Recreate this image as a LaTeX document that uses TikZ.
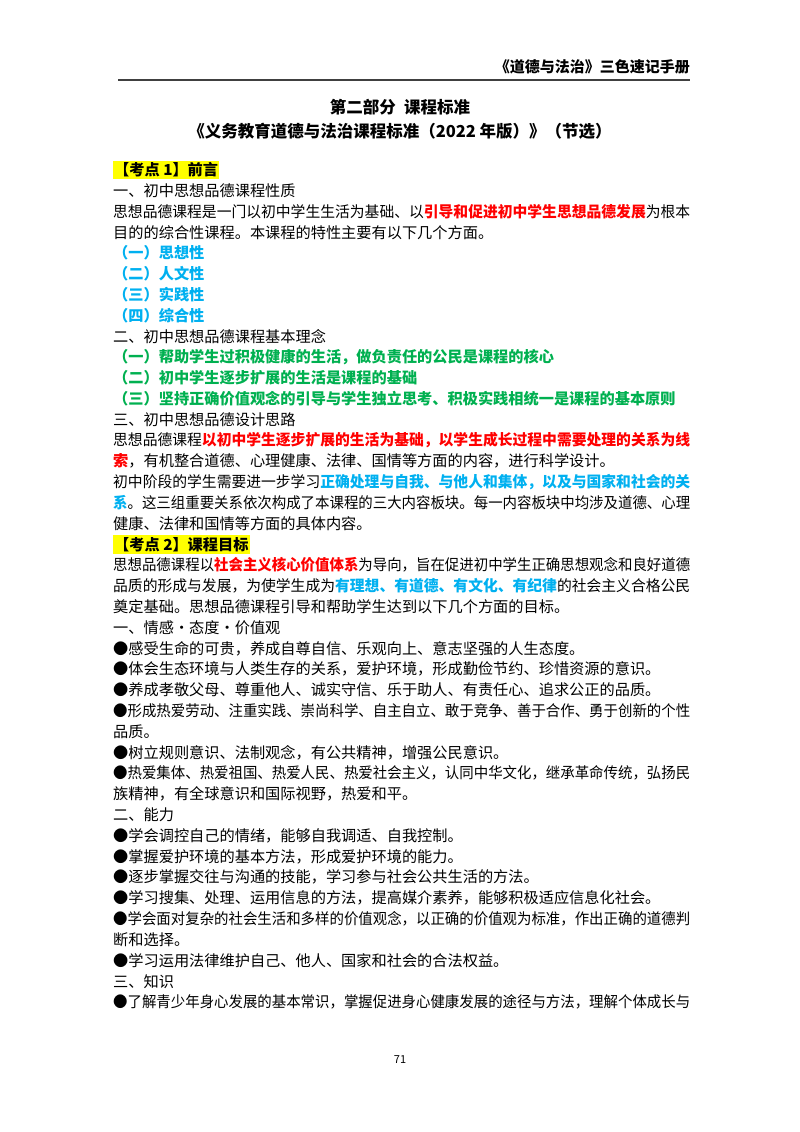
\documentclass[tikz,border=0pt]{standalone}
\usepackage{fontspec}
\usepackage{graphicx}
\setmainfont{Noto Sans CJK SC}
\definecolor{kred}{RGB}{255,0,0}
\definecolor{kblue}{RGB}{0,176,240}
\definecolor{kgreen}{RGB}{0,176,80}
\definecolor{khl}{RGB}{255,255,0}
\newcommand{\Rd}[1]{{\bfseries\color{kred}#1}}
\newcommand{\Bl}[1]{{\bfseries\color{kblue}#1}}
\newcommand{\Gr}[1]{{\bfseries\color{kgreen}#1}}
\newsavebox{\flbox}
\newcommand{\fl}[1]{\sbox{\flbox}{#1}\pgfmathsetmacro{\flr}{577pt/\wd\flbox}\scalebox{\flr}[1]{\usebox{\flbox}}}
\begin{document}
\begin{tikzpicture}[x=1pt,y=-1pt,
  ln/.style={anchor=west,inner sep=0pt,font=\fontsize{15.2}{16}\selectfont},
  hl/.style={ln,fill=khl,inner ysep=2pt,inner xsep=1pt,font=\fontsize{15.2}{16}\selectfont\bfseries}]
\useasboundingbox (0,0) rectangle (800,1132);
\node[anchor=east,inner sep=0pt,font=\fontsize{15}{16}\selectfont\bfseries] (hd) at (690,67) {《道德与法治》三色速记手册};
\draw[line width=1.5pt,black!75] (118,80) -- (690,80);
\node[inner sep=0pt,font=\fontsize{16.5}{18}\selectfont\bfseries] (t1) at (400,107) {第二部分\hspace{0.5em}课程标准};
\node[inner sep=0pt,font=\fontsize{16.5}{18}\selectfont\bfseries] (t2) at (400,131) {《义务教育道德与法治课程标准（2022 年版）》（节选）};
\foreach \i/\t in {
2/{一、初中思想品德课程性质},
3/{\fl{思想品德课程是一门以初中学生生活为基础、以\Rd{引导和促进初中学生思想品德发展}为根本}},
4/{目的的综合性课程。本课程的特性主要有以下几个方面。},
5/{\Bl{（一）思想性}},
6/{\Bl{（二）人文性}},
7/{\Bl{（三）实践性}},
8/{\Bl{（四）综合性}},
9/{二、初中思想品德课程基本理念},
10/{\Gr{（一）帮助学生过积极健康的生活，做负责任的公民是课程的核心}},
11/{\Gr{（二）初中学生逐步扩展的生活是课程的基础}},
12/{\Gr{（三）坚持正确价值观念的引导与学生独立思考、积极实践相统一是课程的基本原则}},
13/{三、初中思想品德设计思路},
14/{\fl{思想品德课程\Rd{以初中学生逐步扩展的生活为基础，以学生成长过程中需要处理的关系为线}}},
15/{\Rd{索}，有机整合道德、心理健康、法律、国情等方面的内容，进行科学设计。},
16/{\fl{初中阶段的学生需要进一步学习\Bl{正确处理与自我、与他人和集体，以及与国家和社会的关}}},
17/{\fl{\Bl{系}。这三组重要关系依次构成了本课程的三大内容板块。每一内容板块中均涉及道德、心理}},
18/{健康、法律和国情等方面的具体内容。},
20/{\fl{思想品德课程以\Rd{社会主义核心价值体系}为导向，旨在促进初中学生正确思想观念和良好道德}},
21/{\fl{品质的形成与发展，为使学生成为\Bl{有理想、有道德、有文化、有纪律}的社会主义合格公民}},
22/{奠定基础。思想品德课程引导和帮助学生达到以下几个方面的目标。},
23/{一、情感·态度·价值观},
24/{●感受生命的可贵，养成自尊自信、乐观向上、意志坚强的人生态度。},
25/{●体会生态环境与人类生存的关系，爱护环境，形成勤俭节约、珍惜资源的意识。},
26/{●养成孝敬父母、尊重他人、诚实守信、乐于助人、有责任心、追求公正的品质。},
27/{\fl{●形成热爱劳动、注重实践、崇尚科学、自主自立、敢于竞争、善于合作、勇于创新的个性}},
28/{品质。},
29/{●树立规则意识、法制观念，有公共精神，增强公民意识。},
30/{\fl{●热爱集体、热爱祖国、热爱人民、热爱社会主义，认同中华文化，继承革命传统，弘扬民}},
31/{族精神，有全球意识和国际视野，热爱和平。},
32/{二、能力},
33/{●学会调控自己的情绪，能够自我调适、自我控制。},
34/{●掌握爱护环境的基本方法，形成爱护环境的能力。},
35/{●逐步掌握交往与沟通的技能，学习参与社会公共生活的方法。},
36/{●学习搜集、处理、运用信息的方法，提高媒介素养，能够积极适应信息化社会。},
37/{\fl{●学会面对复杂的社会生活和多样的价值观念，以正确的价值观为标准，作出正确的道德判}},
38/{断和选择。},
39/{●学习运用法律维护自己、他人、国家和社会的合法权益。},
40/{三、知识},
41/{\fl{●了解青少年身心发展的基本常识，掌握促进身心健康发展的途径与方法，理解个体成长与}}}
  {\node[ln] (l\i) at (113,{170+20.8*(\i-1)}) {\t};}
\node[hl] (k1) at (113,170) {【考点 1】前言};
\node[hl] (k2) at (113,{170+20.8*18}) {【考点 2】课程目标};
\node[inner sep=0pt,font=\fontsize{11}{12}\selectfont] (pg) at (400,1060) {71};
\end{tikzpicture}
\end{document}
